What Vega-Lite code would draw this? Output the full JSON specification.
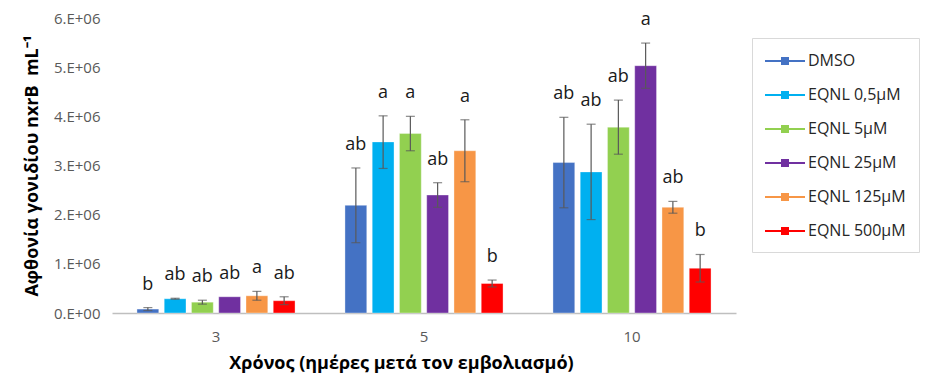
{
  "$schema": "https://vega.github.io/schema/vega-lite/v6.json",
  "width": 624,
  "height": 295,
  "autosize": {"type": "none"},
  "padding": {"left": 112, "top": 18, "right": 189, "bottom": 64},
  "background": "white",
  "config": {"view": {"stroke": null}, "font": "Open Sans"},
  "data": {
    "values": [
      {"day": "3", "treatment": "DMSO", "mean": 80000, "lo": 50000, "hi": 110000, "top": 110000, "sig": "b"},
      {"day": "3", "treatment": "EQNL 0,5µM", "mean": 290000, "lo": 280000, "hi": 300000, "top": 300000, "sig": "ab"},
      {"day": "3", "treatment": "EQNL 5µM", "mean": 220000, "lo": 180000, "hi": 260000, "top": 260000, "sig": "ab"},
      {"day": "3", "treatment": "EQNL 25µM", "mean": 330000, "lo": null, "hi": null, "top": 330000, "sig": "ab"},
      {"day": "3", "treatment": "EQNL 125µM", "mean": 350000, "lo": 260000, "hi": 440000, "top": 440000, "sig": "a"},
      {"day": "3", "treatment": "EQNL 500µM", "mean": 250000, "lo": 170000, "hi": 330000, "top": 330000, "sig": "ab"},
      {"day": "5", "treatment": "DMSO", "mean": 2190000, "lo": 1430000, "hi": 2950000, "top": 2950000, "sig": "ab"},
      {"day": "5", "treatment": "EQNL 0,5µM", "mean": 3480000, "lo": 2940000, "hi": 4010000, "top": 4010000, "sig": "a"},
      {"day": "5", "treatment": "EQNL 5µM", "mean": 3650000, "lo": 3300000, "hi": 4000000, "top": 4000000, "sig": "a"},
      {"day": "5", "treatment": "EQNL 25µM", "mean": 2400000, "lo": 2150000, "hi": 2650000, "top": 2650000, "sig": "ab"},
      {"day": "5", "treatment": "EQNL 125µM", "mean": 3300000, "lo": 2670000, "hi": 3930000, "top": 3930000, "sig": "a"},
      {"day": "5", "treatment": "EQNL 500µM", "mean": 600000, "lo": 530000, "hi": 670000, "top": 670000, "sig": "b"},
      {"day": "10", "treatment": "DMSO", "mean": 3060000, "lo": 2140000, "hi": 3980000, "top": 3980000, "sig": "ab"},
      {"day": "10", "treatment": "EQNL 0,5µM", "mean": 2870000, "lo": 1900000, "hi": 3840000, "top": 3840000, "sig": "ab"},
      {"day": "10", "treatment": "EQNL 5µM", "mean": 3780000, "lo": 3230000, "hi": 4330000, "top": 4330000, "sig": "ab"},
      {"day": "10", "treatment": "EQNL 25µM", "mean": 5030000, "lo": 4570000, "hi": 5490000, "top": 5490000, "sig": "a"},
      {"day": "10", "treatment": "EQNL 125µM", "mean": 2150000, "lo": 2030000, "hi": 2270000, "top": 2270000, "sig": "ab"},
      {"day": "10", "treatment": "EQNL 500µM", "mean": 910000, "lo": 630000, "hi": 1190000, "top": 1190000, "sig": "b"}
    ]
  },
  "encoding": {
    "x": {
      "field": "day",
      "type": "nominal",
      "sort": ["3", "5", "10"],
      "scale": {"paddingInner": 0.24, "paddingOuter": 0.12},
      "axis": {
        "title": "Χρόνος (ημέρες μετά τον εμβολιασμό)",
        "labelAngle": 0,
        "ticks": false,
        "domainColor": "#bfbfbf",
        "domainWidth": 1.5,
        "labelFontSize": 15,
        "labelColor": "#595959",
        "labelPadding": 16,
        "titleFontSize": 18,
        "titleFontWeight": "bold",
        "titleColor": "#000000",
        "titlePadding": 10,
        "titleX": 289
      }
    },
    "xOffset": {
      "field": "treatment",
      "type": "nominal",
      "sort": ["DMSO", "EQNL 0,5µM", "EQNL 5µM", "EQNL 25µM", "EQNL 125µM", "EQNL 500µM"],
      "scale": {"paddingInner": 0.2}
    }
  },
  "layer": [
    {
      "mark": {"type": "bar", "stroke": "#ffffff", "strokeOpacity": 0.35, "strokeWidth": 1},
      "encoding": {
        "y": {
          "field": "mean",
          "type": "quantitative",
          "scale": {"domain": [0, 6000000]},
          "axis": {
            "title": "Αφθονία γονιδίου nxrB\u00a0 mL⁻¹",
            "values": [0, 1000000, 2000000, 3000000, 4000000, 5000000, 6000000],
            "labelExpr": "datum.value == 0 ? '0.E+00' : format(datum.value / 1000000, 'd') + '.E+06'",
            "domain": false,
            "ticks": false,
            "grid": false,
            "labelFontSize": 15,
            "labelColor": "#595959",
            "labelPadding": 12,
            "titleFontSize": 18,
            "titleFontWeight": "bold",
            "titleColor": "#000000",
            "titlePadding": 12
          }
        },
        "color": {
          "field": "treatment",
          "type": "nominal",
          "sort": ["DMSO", "EQNL 0,5µM", "EQNL 5µM", "EQNL 25µM", "EQNL 125µM", "EQNL 500µM"],
          "scale": {
            "domain": ["DMSO", "EQNL 0,5µM", "EQNL 5µM", "EQNL 25µM", "EQNL 125µM", "EQNL 500µM"],
            "range": ["#4472C4", "#00B0F0", "#92D050", "#7030A0", "#F79646", "#FF0000"]
          },
          "legend": {
            "orient": "none",
            "legendX": 640,
            "legendY": 20,
            "title": null,
            "strokeColor": "#d9d9d9",
            "padding": 13,
            "symbolType": "M-1,-0.1H3V0.1H-1Z M0.6,-0.4H1.4V0.4H0.6Z",
            "symbolSize": 400,
            "symbolStrokeWidth": 0,
            "symbolOpacity": 1,
            "labelOffset": 23,
            "labelFontSize": 16,
            "labelColor": "#262626",
            "rowPadding": 16
          }
        }
      }
    },
    {
      "mark": {"type": "rule", "color": "#595959", "strokeWidth": 1.2},
      "encoding": {
        "y": {"field": "lo", "type": "quantitative"},
        "y2": {"field": "hi"}
      }
    },
    {
      "mark": {"type": "tick", "color": "#595959", "size": 9, "thickness": 1.2, "orient": "horizontal"},
      "encoding": {"y": {"field": "hi", "type": "quantitative"}}
    },
    {
      "mark": {"type": "tick", "color": "#595959", "size": 9, "thickness": 1.2, "orient": "horizontal"},
      "encoding": {"y": {"field": "lo", "type": "quantitative"}}
    },
    {
      "mark": {"type": "text", "fontSize": 18, "color": "#1a1a1a", "baseline": "alphabetic", "dy": -18},
      "encoding": {
        "y": {"field": "top", "type": "quantitative"},
        "text": {"field": "sig"}
      }
    }
  ]
}
